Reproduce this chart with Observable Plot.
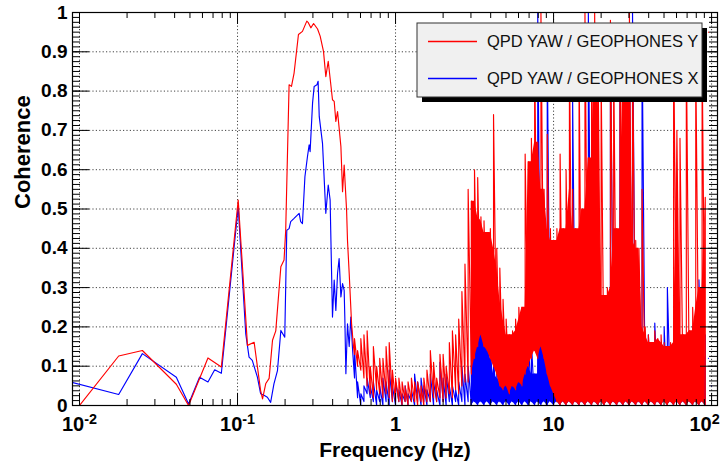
<!DOCTYPE html>
<html>
<head>
<meta charset="utf-8">
<script src="https://cdn.jsdelivr.net/npm/d3@7"></script>
<script src="https://cdn.jsdelivr.net/npm/@observablehq/plot@0.6"></script>
<style>
  html, body { margin: 0; padding: 0; background: #ffffff; }
  #chart svg { display: block; }
</style>
</head>
<body>
<div id="chart"></div>
<script>
// ---------- DATA ----------
// Low-frequency part of "QPD YAW / GEOPHONES Y" (red)
const redLowFreq = [0.01,0.0177,0.025,0.041,0.049,0.065,0.079,0.101,0.1156,0.1274,0.140,0.144,0.151,0.1585,0.1665,0.1746,0.188,0.197,0.2018,0.212,0.2195,0.228,0.243,0.2576,0.2744,0.2795,0.291,0.303,0.321,0.3334,0.35,0.362,0.375,0.399,0.409,0.419,0.4295,0.451,0.462,0.473,0.481,0.49,0.4965,0.509,0.527,0.542];
const redLowVal  = [0,0.126,0.14,0.054,0.0,0.121,0.098,0.523,0.153,0.161,0.038,0.017,0.056,0.069,0.166,0.19,0.353,0.37,0.446,0.816,0.812,0.846,0.944,0.952,0.978,0.975,0.961,0.972,0.958,0.94,0.901,0.837,0.876,0.778,0.774,0.723,0.748,0.659,0.544,0.612,0.557,0.497,0.42,0.336,0.208,0.149];

// Low-frequency part of "QPD YAW / GEOPHONES X" (blue)
const blueLowFreq = [0.0078,0.0177,0.025,0.041,0.049,0.0575,0.065,0.0717,0.079,0.101,0.1127,0.1183,0.124,0.1336,0.140,0.147,0.1545,0.162,0.170,0.179,0.188,0.199,0.205,0.212,0.217,0.228,0.240,0.2455,0.251,0.2576,0.267,0.277,0.284,0.288,0.2985,0.3055,0.318,0.3236,0.329,0.345,0.362,0.375,0.3855,0.39,0.399,0.409,0.419,0.4295,0.4395,0.451,0.462,0.473,0.4775,0.485,0.4965,0.509,0.521,0.535];
const blueLowVal  = [0.065,0.028,0.132,0.072,0.004,0.072,0.06,0.091,0.082,0.506,0.183,0.123,0.115,0.072,0.03,0.026,0.021,0.008,0.055,0.089,0.191,0.174,0.446,0.45,0.468,0.476,0.485,0.489,0.468,0.463,0.582,0.633,0.663,0.646,0.77,0.812,0.816,0.825,0.735,0.667,0.489,0.561,0.523,0.42,0.225,0.319,0.242,0.336,0.374,0.276,0.31,0.293,0.225,0.081,0.208,0.15,0.225,0.14];

// Noisy part (0.55 Hz - 100 Hz): frequency columns with local min / max
const noiseFreq = [0.55,0.575,0.603,0.631,0.661,0.692,0.724,0.759,0.794,0.832,0.871,0.912,0.955,1.0,1.05,1.10,1.15,1.20,1.26,1.32,1.38,1.45,1.51,1.58,1.66,1.74,1.82,1.91,2.0,2.09,2.19,2.29,2.40,2.51,2.63,2.75,2.88,3.02,3.16,3.31,3.47,3.63,3.80,3.98,4.17,4.37,4.57,4.79,5.01,5.25,5.50,5.75,6.03,6.31,6.61,6.92,7.24,7.59,7.94,8.32,8.71,9.12,9.55,10,10.5,11.0,11.5,12.0,12.6,13.2,13.8,14.5,15.1,15.8,16.6,17.4,18.2,19.1,20.0,20.9,21.9,22.9,24.0,25.1,26.3,27.5,28.8,30.2,31.6,33.1,34.7,36.3,38.0,39.8,41.7,43.7,45.7,47.9,50.1,52.5,55.0,57.5,60.3,63.1,66.1,69.2,72.4,75.9,79.4,83.2,87.1,91.2,95.5,100];
const redHi = [0.17,0.14,0.17,0.18,0.19,0.10,0.15,0.10,0.12,0.12,0.15,0.16,0.09,0.07,
  0.07,0.06,0.05,0.06,0.07,0.06,0.06,0.05,0.07,0.09,0.14,0.11,0.07,0.13,0.13,0.10,0.16,0.19,0.18,0.22,0.29,0.36,0.55,0.52,
  0.60,0.58,0.48,0.47,0.44,0.45,0.74,0.40,0.35,0.27,0.22,0.18,0.19,0.22,0.25,0.25,0.64,0.62,0.68,0.90,0.67,1.0,0.55,0.69,0.45,
  0.42,0.45,0.64,0.45,0.60,0.90,0.55,0.45,0.88,0.50,1.0,0.63,0.92,1.0,0.90,0.85,0.28,0.30,0.98,0.90,0.45,0.92,0.90,0.93,1.0,0.95,
  0.42,0.40,0.55,0.20,0.18,0.16,0.19,0.17,0.18,0.16,0.15,0.16,0.95,0.70,0.68,0.18,0.92,0.19,0.25,0.88,0.30,0.90,0.53,0.95,0.35];
const redLo = [0.13,0.10,0.09,0.07,0.05,0.03,0.02,0.04,0.03,0.02,0.03,0.02,0.01,0.01,
  0.01,0.0,0.01,0.0,0.01,0.01,0.0,0.01,0.0,0.01,0.01,0.02,0.01,0.02,0.01,0.02,0.03,0.02,0.04,0.03,0.05,0.06,0.06,0.08,
  0.12,0.15,0.18,0.15,0.14,0.12,0.10,0.08,0.05,0.04,0.05,0.03,0.05,0.04,0.06,0.05,0.08,0.10,0.12,0.14,0.12,0.15,0.12,0.08,0.05,
  0.03,0.01,0.0,0.01,0.0,0.01,0.0,0.01,0.0,0.01,0.0,0.01,0.0,0.01,0.0,0.01,0.0,0.01,0.0,0.01,0.0,0.01,0.0,0.01,0.0,
  0.01,0.0,0.01,0.0,0.01,0.0,0.01,0.0,0.01,0.0,0.01,0.0,0.01,0.0,0.01,0.0,0.01,0.0,0.01,0.0,0.01,0.0,0.01,0.0];
const blueHi = [0.14,0.06,0.03,0.05,0.07,0.05,0.06,0.04,0.05,0.07,0.06,0.09,0.05,0.06,
  0.04,0.03,0.05,0.03,0.04,0.08,0.06,0.07,0.05,0.04,0.08,0.06,0.04,0.11,0.07,0.08,0.05,0.05,0.04,0.06,0.10,0.08,0.10,0.22,
  0.24,0.45,0.20,0.18,0.19,0.15,0.12,0.08,0.07,0.06,0.08,0.05,0.07,0.06,0.08,0.12,0.10,0.17,0.16,0.08,1.0,0.45,0.50,0.90,0.40,
  0.22,0.15,0.10,0.18,0.12,0.40,0.78,0.08,0.30,0.15,0.50,1.0,0.20,0.68,0.25,0.28,0.12,0.10,0.95,0.22,0.31,0.80,0.20,0.15,0.90,1.0,
  0.12,0.10,0.95,0.10,0.18,0.12,0.21,0.12,0.14,0.20,0.30,0.10,0.14,0.30,0.12,0.10,0.14,0.12,0.20,0.15,0.32,0.14,0.18,0.12,0.05];
const blueLo = [0.07,0.02,0.0,0.01,0.03,0.02,0.01,0.0,0.01,0.0,0.01,0.0,0.01,0.0,
  0.01,0.0,0.01,0.0,0.01,0.0,0.01,0.0,0.01,0.0,0.01,0.0,0.01,0.0,0.01,0.0,0.01,0.0,0.01,0.0,0.01,0.0,0.01,0.0,
  0.01,0.0,0.01,0.0,0.01,0.0,0.01,0.0,0.01,0.0,0.01,0.0,0.01,0.0,0.01,0.0,0.01,0.0,0.01,0.0,0.01,0.0,0.01,0.0,0.01,
  0.0,0.01,0.0,0.01,0.0,0.01,0.0,0.01,0.0,0.01,0.0,0.01,0.0,0.01,0.0,0.01,0.0,0.01,0.0,0.01,0.0,0.01,0.0,0.01,0.0,
  0.01,0.0,0.01,0.0,0.01,0.0,0.01,0.0,0.01,0.0,0.01,0.0,0.01,0.0,0.01,0.0,0.01,0.0,0.01,0.0,0.01,0.0,0.01,0.0];

// Axes
const xMajorTicks = [0.01, 0.1, 1, 10, 100];
const xTickLabels = ["10^-2", "10^-1", "1", "10", "10^2"];
const yMajorTicks = [0, 0.1, 0.2, 0.3, 0.4, 0.5, 0.6, 0.7, 0.8, 0.9, 1];
const yTickLabels = ["0", "0.1", "0.2", "0.3", "0.4", "0.5", "0.6", "0.7", "0.8", "0.9", "1"];
const seriesNames = ["QPD YAW / GEOPHONES Y", "QPD YAW / GEOPHONES X"];
const seriesColors = ["#ff0000", "#0000ff"];
const xLabel = "Frequency (Hz)";
const yLabel = "Coherence";

// ---------- build tables ----------
function buildSeries(lowF, lowV, lo, hi) {
  const pts = lowF.map((f, i) => ({f, v: lowV[i]}));
  noiseFreq.forEach((f, i) => { pts.push({f, v: lo[i]}); pts.push({f, v: hi[i]}); });
  return pts;
}
// dense band between the traces' minima and the neighbouring maxima (where the trace is dense)
function buildBand(lo, hi) {
  const out = [];
  noiseFreq.forEach((f, i) => {
    if (f < 2.9) return;
    const top = Math.min(hi[i], hi[Math.max(0, i - 1)], hi[Math.min(hi.length - 1, i + 1)]);
    out.push({f, lo: lo[i], top: Math.max(top, lo[i])});
  });
  return out;
}
const redData = buildSeries(redLowFreq, redLowVal, redLo, redHi);
const blueData = buildSeries(blueLowFreq, blueLowVal, blueLo, blueHi);
const redBand = buildBand(redLo, redHi);
const blueBand = buildBand(blueLo, blueHi);

const xMinorTicks = [];
for (let e = -3; e <= 2; e++) for (let m = 2; m <= 9; m++) {
  const v = m * Math.pow(10, e);
  if (v > 0.00903 && v < 109) xMinorTicks.push(v);
}
const yMinorTicks = d3.range(0, 81).map(i => i / 80);

const W = 723, H = 471, ML = 72, MR = 6, MT = 12, MB = 66;
const FW = W - ML - MR, FH = H - MT - MB;
const FONT = "'Liberation Sans', Arial, Helvetica, sans-serif";

const chart = Plot.plot({
  width: W, height: H,
  marginLeft: ML, marginRight: MR, marginTop: MT, marginBottom: MB,
  style: {background: "#ffffff", fontFamily: FONT, overflow: "visible"},
  x: {type: "log", domain: [0.00903, 109], axis: null},
  y: {domain: [0, 1], axis: null},
  marks: [
    // grid
    Plot.ruleX(xMajorTicks, {x: d => d, stroke: "#444", strokeWidth: 1, strokeDasharray: "1.2,2.2"}),
    Plot.ruleY(yMajorTicks.slice(1, -1), {y: d => d, stroke: "#444", strokeWidth: 1, strokeDasharray: "1.2,2.2"}),
    // data
    Plot.areaY(blueBand, {x: "f", y1: "lo", y2: "top", fill: seriesColors[1], clip: true}),
    Plot.line(blueData, {x: "f", y: "v", stroke: seriesColors[1], strokeWidth: 1.15, clip: true}),
    Plot.areaY(redBand, {x: "f", y1: "lo", y2: "top", fill: seriesColors[0], clip: true}),
    Plot.line(redData, {x: "f", y: "v", stroke: seriesColors[0], strokeWidth: 1.15, clip: true}),
    // ticks (inside the frame, ROOT style)
    Plot.tickX(xMajorTicks, {x: d => d, insetTop: FH - 12, stroke: "#000"}),
    Plot.tickX(xMajorTicks, {x: d => d, insetBottom: FH - 12, stroke: "#000"}),
    Plot.tickX(xMinorTicks, {x: d => d, insetTop: FH - 6, stroke: "#000"}),
    Plot.tickX(xMinorTicks, {x: d => d, insetBottom: FH - 6, stroke: "#000"}),
    Plot.tickY(yMajorTicks, {y: d => d, insetRight: FW - 17, stroke: "#000"}),
    Plot.tickY(yMajorTicks, {y: d => d, insetLeft: FW - 17, stroke: "#000"}),
    Plot.tickY(yMinorTicks, {y: d => d, insetRight: FW - 8, stroke: "#000"}),
    Plot.tickY(yMinorTicks, {y: d => d, insetLeft: FW - 8, stroke: "#000"}),
    Plot.frame({stroke: "#000", strokeWidth: 1.2}),
    // tick labels
    Plot.text(xMajorTicks, {x: d => d, text: (d, i) => xTickLabels[i], frameAnchor: "bottom", dy: 25,
      fontSize: 20, fontWeight: "bold", fill: "#000"}),
    Plot.text(yMajorTicks, {y: d => d, text: (d, i) => yTickLabels[i], frameAnchor: "left", dx: -5,
      textAnchor: "end", fontSize: 19, fontWeight: "bold", fill: "#000"}),
    // axis titles
    Plot.text([xLabel], {text: d => d, frameAnchor: "bottom", dy: 51, fontSize: 21, fontWeight: "bold", fill: "#000"}),
    Plot.text([yLabel], {text: d => d, frameAnchor: "left", dx: -50, rotate: -90, fontSize: 22, fontWeight: "bold", fill: "#000"})
  ]
});

// superscripts for 10^n labels
d3.select(chart).selectAll("text").each(function () {
  const t = this.textContent;
  if (t.includes("^")) {
    const [b, e] = t.split("^");
    const s = d3.select(this);
    s.text(null);
    const base = s.append("tspan").text(b);
    if (e === "2") base.attr("dx", -7);
    s.append("tspan").attr("dy", "-0.45em").attr("font-size", "0.72em").text(e);
  }
});

// legend (ROOT style box with shadow)
const svg = d3.select(chart);
const lg = svg.append("g").attr("font-family", FONT).attr("text-anchor", "start");
const bx = 417, by = 23, bw = 285, bh = 74;
lg.append("rect").attr("x", bx + 5).attr("y", by + 5).attr("width", bw).attr("height", bh).attr("fill", "#000");
lg.append("rect").attr("x", bx).attr("y", by).attr("width", bw).attr("height", bh)
  .attr("fill", "#f0f0f0").attr("stroke", "#333").attr("stroke-width", 1);
seriesNames.forEach((name, i) => {
  const yy = by + 18.5 + i * 37;
  lg.append("line").attr("x1", bx + 11).attr("x2", bx + 60).attr("y1", yy).attr("y2", yy)
    .attr("stroke", seriesColors[i]).attr("stroke-width", 1.3);
  lg.append("text").attr("x", bx + 70).attr("y", yy).attr("dy", "0.35em").attr("text-anchor", "start")
    .attr("font-size", 16.5).attr("fill", "#111").text(name);
});

document.getElementById("chart").appendChild(chart);
</script>
</body>
</html>
